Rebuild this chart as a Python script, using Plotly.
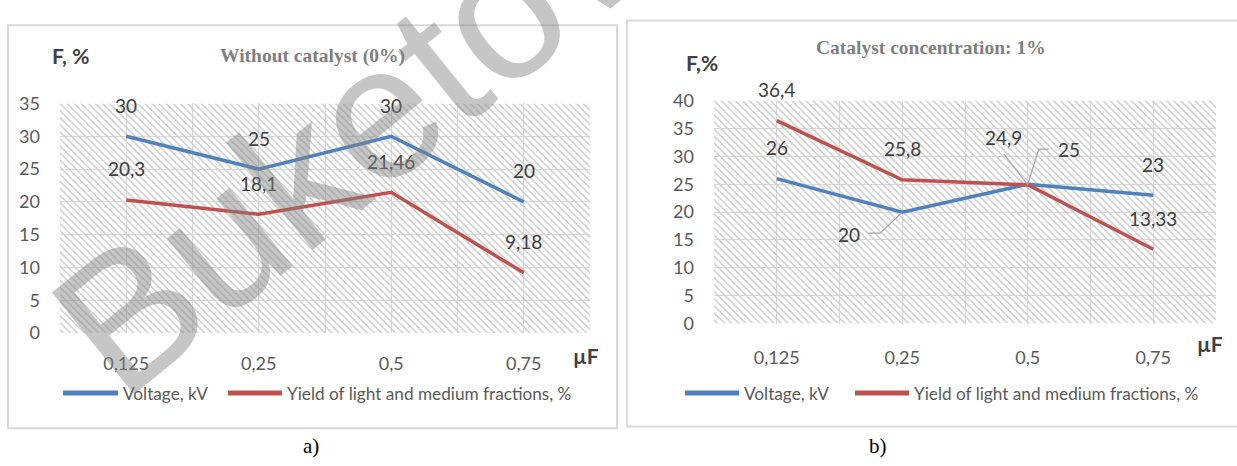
import plotly.graph_objects as go

# Capacitance categories (µF) shared by both panels
categories = ["0,125", "0,25", "0,5", "0,75"]

# Panel a) — without catalyst
a_voltage = [30, 25, 30, 20]
a_yield = [20.3, 18.1, 21.46, 9.18]

# Panel b) — catalyst concentration 1%
b_voltage = [26, 20, 25, 23]
b_yield = [36.4, 25.8, 24.9, 13.33]

a_yticks = [0, 5, 10, 15, 20, 25, 30, 35]
b_yticks = [0, 5, 10, 15, 20, 25, 30, 35, 40]

series_names = ["Voltage, kV", "Yield of light and medium fractions, %"]
colors = ["#4F81BD", "#C0504D"]

W, H = 1237, 466
LABEL_FONT = dict(family="Lato", size=19, color="#404040")
TICK_FONT = dict(family="Lato", size=18, color="#595959")
LEGEND_FONT = dict(family="Lato", size=17.2, color="#595959")


def fmt(v):
    return f"{v:g}".replace(".", ",")


def px(x):
    return x / W


def py(y):
    return 1 - y / H


fig = go.Figure()

panels = [
    dict(xa="x", ya="y", data=[a_voltage, a_yield], yticks=a_yticks,
         dom_x=[px(60), px(590)], dom_y=[py(337), py(96)],
         legend_keys=[(63, 118), (228, 282)]),
    dict(xa="x2", ya="y2", data=[b_voltage, b_yield], yticks=b_yticks,
         dom_x=[px(714), px(1216)], dom_y=[py(327), py(93)],
         legend_keys=[(685, 739), (855, 909)]),
]

n = len(categories)
xs = list(range(n))
grid_vals = [i / 2 - 0.5 for i in range(2 * n + 1)]
grid_text = [categories[int(v)] if float(v).is_integer() else "" for v in grid_vals]

for p in panels:
    ymax = p["yticks"][-1]
    # hatched plot-area background
    fig.add_trace(go.Scatter(
        x=[-0.5, n - 0.5, n - 0.5, -0.5, -0.5], y=[0, 0, ymax, ymax, 0],
        xaxis=p["xa"], yaxis=p["ya"], mode="lines", line=dict(width=0),
        fill="toself", fillcolor="rgba(255,255,255,0)",
        fillpattern=dict(shape="\\", size=5, solidity=0.3, fgcolor="#cdcdcd",
                         fgopacity=1),
        hoverinfo="skip", showlegend=False,
    ))
    for name, vals, c in zip(series_names, p["data"], colors):
        fig.add_trace(go.Scatter(
            x=xs, y=vals, xaxis=p["xa"], yaxis=p["ya"], mode="lines",
            line=dict(color=c, width=3.5), name=name, showlegend=False,
        ))

axis_common = dict(showgrid=True, gridcolor="#d9d9d9", gridwidth=1, zeroline=False,
                   showline=False, ticks="", tickfont=TICK_FONT, fixedrange=True)

for i, p in enumerate(panels):
    sfx = "" if i == 0 else "2"
    fig.update_layout({
        f"xaxis{sfx}": dict(axis_common, domain=p["dom_x"], range=[-0.5, n - 0.5],
                            tickmode="array", tickvals=grid_vals, ticktext=grid_text,
                            anchor=f"y{sfx}", ticklabelstandoff=18 if i == 0 else 21),
        f"yaxis{sfx}": dict(axis_common, domain=p["dom_y"], range=[0, p["yticks"][-1]],
                            tickmode="array", tickvals=p["yticks"],
                            anchor=f"x{sfx}", ticklabelstandoff=19),
    })

annotations = []
shapes = []

# data labels above points (three labels of panel b are placed with leader lines)
moved = {(1, 0, 2), (1, 1, 2), (1, 0, 1)}
for i, p in enumerate(panels):
    sfx = "" if i == 0 else "2"
    for s, vals in enumerate(p["data"]):
        for k, v in enumerate(vals):
            if (i, s, k) in moved:
                continue
            annotations.append(dict(x=k, y=v, xref=f"x{sfx}", yref=f"y{sfx}",
                                    text=fmt(v), showarrow=False, yshift=31,
                                    font=LABEL_FONT))

leaders = [
    # (series, index, text dx, text dy, leader path in px relative to the point)
    (1, 2, -24, 47, "M-24,31 L0,0"),
    (0, 2, 41, 35, "M0,0 L11,35 L21,35"),
    (0, 1, -53, -22, "M0,0 L-22,-21 L-34,-21"),
]
for s, k, dx, dy, path in leaders:
    v = panels[1]["data"][s][k]
    annotations.append(dict(x=k, y=v, xref="x2", yref="y2", text=fmt(v),
                            showarrow=False, xshift=dx, yshift=dy, font=LABEL_FONT))
    shapes.append(dict(type="path", xref="x2", yref="y2", xsizemode="pixel",
                       ysizemode="pixel", xanchor=k, yanchor=v, path=path,
                       line=dict(color="#a6a6a6", width=1.2)))

# legend keys under each panel
LEGEND_Y = 400
for p in panels:
    for (x0, x1), name, c in zip(p["legend_keys"], series_names, colors):
        shapes.append(dict(type="line", xref="paper", yref="paper", x0=px(x0), x1=px(x1),
                           y0=py(LEGEND_Y), y1=py(LEGEND_Y), line=dict(color=c, width=5)))
        annotations.append(dict(x=px(x1 + 3), y=py(LEGEND_Y), xref="paper", yref="paper",
                                text=name, showarrow=False, xanchor="left",
                                yanchor="middle", font=LEGEND_FONT))

# panel frames
shapes.append(dict(type="rect", xref="paper", yref="paper", x0=px(8), x1=px(617),
                   y0=py(437), y1=py(14), line=dict(color="#d9d9d9", width=2)))
shapes.append(dict(type="rect", xref="paper", yref="paper", x0=px(627), x1=px(1240),
                   y0=py(435), y1=py(9), line=dict(color="#d9d9d9", width=2)))

# titles and axis captions
title_font = dict(family="Liberation Serif", size=19.5, color="#7f7f7f")
caption_font = dict(family="Lato", size=21, color="#404040")
texts = [
    ("<b>Without catalyst (0%)</b>", 312, 46, title_font, "center"),
    ("<b>Catalyst concentration: 1%</b>", 931, 37, title_font, "center"),
    ("<b>F, %</b>", 50, 46, caption_font, "left"),
    ("<b>F,%</b>", 684, 53, caption_font, "left"),
    ("<b>µF</b>", 586, 360, caption_font, "center"),
    ("<b>µF</b>", 1210, 348, caption_font, "center"),
    ("a)", 311, 455, dict(family="Liberation Serif", size=21, color="#000000"), "center"),
    ("b)", 878, 455, dict(family="Liberation Serif", size=21, color="#000000"), "center"),
]
for t, x, y, f, anchor in texts:
    annotations.append(dict(x=px(x), y=py(y), xref="paper", yref="paper", text=t,
                            showarrow=False, font=f, xanchor=anchor, yanchor="middle"))

# watermark
annotations.append(dict(x=px(347), y=py(131), xref="paper", yref="paper", text="Buketov",
                        showarrow=False, textangle=-39, xanchor="center", yanchor="middle",
                        font=dict(family="Liberation Sans", size=190,
                                  color="rgba(128,128,128,0.45)")))

fig.update_layout(
    width=W, height=H, margin=dict(l=0, r=0, t=0, b=0),
    paper_bgcolor="white", plot_bgcolor="white",
    annotations=annotations, shapes=shapes, showlegend=False,
)

fig.write_html("out.html")
